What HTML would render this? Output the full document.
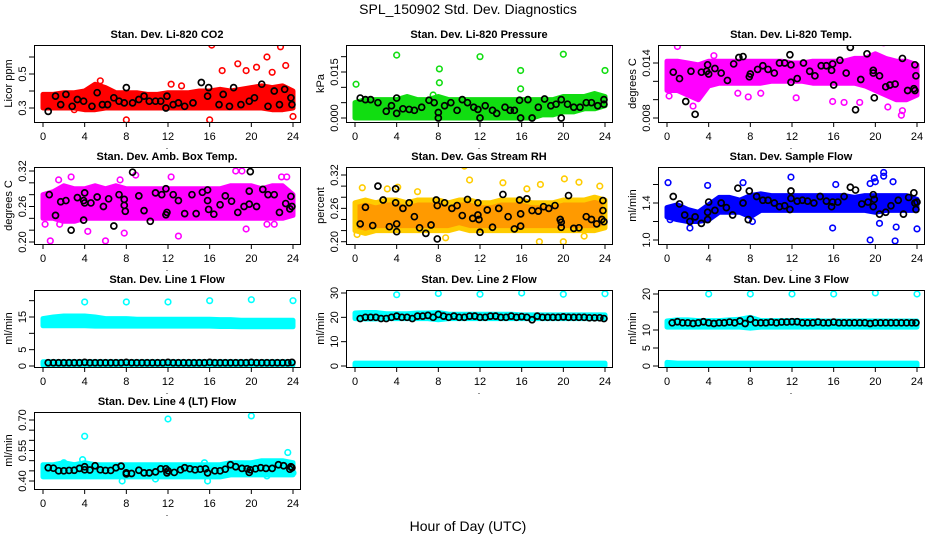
<!DOCTYPE html>
<html><head><meta charset="utf-8"><style>
html,body{margin:0;padding:0;background:#fff;}
svg{display:block;font-family:"Liberation Sans",sans-serif;}
</style></head><body>
<svg id="c" width="936" height="540" viewBox="0 0 936 540" xmlns="http://www.w3.org/2000/svg">
<text x="468" y="14" text-anchor="middle" font-size="14">SPL_150902  Std. Dev. Diagnostics</text>
<text x="468" y="531" text-anchor="middle" font-size="14">Hour of Day (UTC)</text>
</svg>
<script>
// ---- data ----
const bandHours=[0,1,2,3,4,5,6,7,8,9,10,11,12,13,14,15,16,17,18,19,20,21,22,23,24];
const blkHours=[0.5,1,1.5,2,2.5,3,3.5,4,4.5,5,5.5,6,6.5,7,7.5,8,8.5,9,9.5,10,10.5,11,11.5,12,12.5,13,13.5,14,14.5,15,15.5,16,16.5,17,17.5,18,18.5,19,19.5,20,20.5,21,21.5,22,22.5,23,23.5,23.9];

const co2Lo=[0.30,0.30,0.30,0.30,0.29,0.29,0.30,0.30,0.30,0.30,0.30,0.30,0.30,0.30,0.30,0.30,0.30,0.30,0.30,0.30,0.30,0.30,0.29,0.29,0.30];
const co2Hi=[0.38,0.38,0.39,0.39,0.40,0.44,0.42,0.39,0.39,0.39,0.38,0.38,0.39,0.39,0.39,0.40,0.40,0.41,0.40,0.41,0.42,0.43,0.42,0.43,0.40];
const co2Out=[[16.2,0.67],[22.8,0.66],[18.7,0.56],[21.5,0.6],[20.5,0.54],[22,0.51],[23.3,0.55],[19.5,0.52],[17.2,0.52],[8,0.23],[16,0.23],[24,0.25],[13.3,0.43],[12.3,0.44],[5.5,0.46],[0.5,0.31],[3,0.29]];
const co2Blk=[[0.5,0.28],[1.2,0.37],[1.7,0.32],[2.2,0.38],[2.8,0.31],[3.3,0.35],[3.9,0.34],[4.7,0.31],[5.2,0.39],[5.7,0.32],[6.2,0.32],[6.8,0.36],[7.3,0.34],[7.8,0.33],[8,0.42],[8.6,0.33],[9.2,0.35],[9.7,0.37],[10.2,0.34],[10.8,0.34],[11.3,0.34],[11.8,0.3],[11.9,0.37],[12.5,0.32],[13,0.33],[13.6,0.31],[14.4,0.33],[15.2,0.45],[15.8,0.37],[15.9,0.42],[16.9,0.32],[17.3,0.38],[17.9,0.31],[18.3,0.42],[19,0.32],[19.8,0.34],[20.3,0.36],[21,0.44],[21.6,0.31],[22.2,0.40],[22.7,0.32],[23.2,0.41],[23.8,0.36],[23.9,0.32]];

const presLo=[0,0,0,0,0,0,0,0,0,0,0,0,0,0,0,0,0,0,0.001,0.001,0.002,0.002,0.003,0.003,0.004];
const presHi=[0.005,0.006,0.006,0.006,0.006,0.007,0.006,0.006,0.007,0.006,0.006,0.006,0.006,0.006,0.006,0.006,0.006,0.006,0.006,0.006,0.007,0.007,0.007,0.008,0.007];
const presOut=[[0.1,0.011],[4,0.0205],[12,0.020],[20,0.0208],[8.1,0.016],[8.1,0.0115],[15.9,0.0155],[24,0.0155],[15.9,0.0095],[7.5,0.0075]];
const presBlk=[[0.5,0.0065],[1,0.006],[1.5,0.006],[2.2,0.005],[3,0.0022],[3.5,0.004],[4,0.0065],[4,0.0015],[4.6,0.003],[5.2,0.0028],[5.7,0.0025],[6.4,0.0035],[7.1,0.0058],[7.6,0.005],[8,0.0018],[8,0],[8.6,0.004],[9.2,0.005],[9.8,0.0025],[10.3,0.006],[10.8,0.005],[11.4,0.0035],[11.8,0.0028],[12,0],[12.5,0.004],[13.2,0.0025],[13.6,0.0015],[14.4,0.0035],[14.9,0.0025],[15.3,0.0025],[15.8,0.0058],[15.9,0],[16.6,0.006],[17,0],[17.6,0.0035],[18.2,0.0062],[18.8,0.004],[19.3,0.0045],[19.8,0.006],[19.8,0],[20.4,0.0045],[21,0.0035],[21.6,0.0035],[22.2,0.005],[22.7,0.005],[23.3,0.004],[23.9,0.006],[23.9,0.0045]];

const tempLo=[0.011,0.011,0.0105,0.010,0.0115,0.0118,0.0118,0.0118,0.0118,0.0118,0.012,0.012,0.012,0.012,0.0118,0.0118,0.0118,0.0118,0.0118,0.0115,0.011,0.0105,0.010,0.010,0.0105];
const tempHi=[0.0142,0.0142,0.014,0.0138,0.0142,0.0142,0.0142,0.0142,0.0142,0.0142,0.0142,0.0142,0.014,0.014,0.0142,0.0142,0.0142,0.0142,0.0145,0.0145,0.015,0.0145,0.0142,0.0142,0.0138];
const tempOut=[[1,0.0158],[4.5,0.0148],[20.5,0.0172],[20.8,0.0162],[22.5,0.0083],[22.6,0.0088],[2.5,0.0093],[12.4,0.0102],[17,0.0097],[18.5,0.0097],[15.9,0.0098],[7.8,0.0103],[6.8,0.0107],[9,0.0107],[21.2,0.0092],[0.2,0.0104]];
const tempBlk=[[0.6,0.013],[1.2,0.0123],[1.8,0.0098],[2.3,0.0131],[2.7,0.0084],[3.3,0.013],[3.8,0.0131],[3.9,0.0138],[4.0,0.0128],[4.6,0.0134],[5.2,0.0129],[5.8,0.0121],[6.4,0.0139],[6.9,0.0146],[7.3,0.0147],[7.9,0.0125],[8,0.0128],[8.7,0.0133],[9.2,0.0137],[9.7,0.0133],[10.3,0.0129],[10.8,0.014],[11.3,0.014],[11.8,0.0149],[11.9,0.0138],[11.9,0.0119],[12.5,0.0123],[13.1,0.014],[13.7,0.0131],[14.2,0.0126],[14.8,0.0137],[15.3,0.0137],[15.8,0.0132],[15.9,0.0139],[16,0.0116],[16.6,0.0143],[17.2,0.0129],[17.6,0.0157],[18.1,0.0089],[18.6,0.0122],[19.2,0.015],[19.8,0.0132],[19.8,0.0129],[19.9,0.0102],[20.4,0.0126],[21,0.0114],[21.4,0.0116],[21.9,0.0117],[22.6,0.0145],[23.1,0.011],[23.7,0.0112],[23.8,0.011],[23.8,0.0138],[23.9,0.0126]];

const ambLo=[0.24,0.24,0.235,0.235,0.24,0.24,0.24,0.24,0.24,0.24,0.24,0.24,0.24,0.24,0.24,0.24,0.24,0.24,0.24,0.24,0.24,0.24,0.24,0.24,0.245];
const ambHi=[0.28,0.285,0.295,0.29,0.29,0.295,0.29,0.295,0.29,0.29,0.29,0.29,0.29,0.29,0.29,0.29,0.29,0.29,0.295,0.295,0.295,0.29,0.295,0.295,0.28];
const ambOut=[[0.7,0.202],[6,0.202],[2.7,0.31],[12.3,0.31],[18.5,0.32],[19.1,0.32],[8.9,0.313],[13,0.21],[7.8,0.215],[4.3,0.218],[19.5,0.222],[22.9,0.31],[23.4,0.31],[0.2,0.23],[1.6,0.23],[21.5,0.23],[22.2,0.23],[1.5,0.305],[7.4,0.305]];
const ambBlk=[[0.6,0.28],[1.2,0.245],[1.7,0.268],[2.2,0.27],[2.7,0.22],[3.3,0.275],[3.9,0.27],[3.9,0.237],[4,0.283],[4,0.266],[4.6,0.266],[5.2,0.276],[5.8,0.26],[6.3,0.273],[6.8,0.227],[7.3,0.28],[7.8,0.272],[7.8,0.262],[7.9,0.252],[8.6,0.318],[9.2,0.278],[9.7,0.253],[10.3,0.235],[10.8,0.283],[11.4,0.28],[11.8,0.29],[11.8,0.246],[11.9,0.25],[12.5,0.28],[13,0.27],[13.6,0.248],[14.3,0.28],[14.7,0.248],[15.3,0.284],[15.8,0.288],[15.8,0.27],[15.9,0.255],[16.4,0.247],[17,0.263],[17.5,0.278],[18.1,0.269],[18.7,0.25],[19.3,0.26],[19.8,0.286],[19.8,0.264],[19.9,0.319],[20.5,0.26],[21.1,0.289],[21.6,0.28],[22.2,0.28],[22.7,0.25],[23.3,0.265],[23.7,0.256],[23.8,0.277],[23.9,0.26]];

const rhLo=[0.22,0.215,0.22,0.22,0.22,0.22,0.22,0.22,0.22,0.22,0.225,0.22,0.22,0.22,0.22,0.22,0.22,0.22,0.22,0.22,0.22,0.22,0.22,0.22,0.225];
const rhHi=[0.27,0.275,0.27,0.275,0.275,0.27,0.275,0.275,0.275,0.27,0.275,0.275,0.27,0.27,0.275,0.275,0.275,0.27,0.27,0.27,0.275,0.275,0.275,0.28,0.275];
const rhOut=[[10.5,0.336],[11,0.311],[17.8,0.303],[20.1,0.313],[21.5,0.307],[14.2,0.306],[0.7,0.297],[4.1,0.298],[17.7,0.2],[20,0.2],[8.7,0.207],[22,0.21],[0.2,0.213],[23.5,0.30],[3.1,0.295],[6,0.29],[16.5,0.295]];
const rhBlk=[[0.5,0.232],[1,0.262],[1.7,0.229],[2.2,0.3],[2.7,0.275],[3.3,0.227],[3.9,0.295],[3.9,0.27],[4,0.232],[4,0.218],[5.2,0.27],[4.6,0.26],[5.7,0.245],[6.2,0.225],[6.8,0.215],[7.3,0.23],[7.8,0.275],[7.9,0.265],[7.9,0.205],[8.6,0.27],[9.3,0.26],[9.8,0.265],[10.3,0.247],[10.8,0.276],[11.3,0.242],[11.8,0.27],[11.8,0.248],[11.9,0.24],[12,0.217],[12.7,0.257],[13.2,0.226],[13.8,0.26],[14.2,0.285],[14.7,0.245],[15.3,0.223],[15.8,0.275],[15.9,0.25],[15.9,0.228],[16.5,0.277],[17,0.256],[17.6,0.255],[18.1,0.263],[18.6,0.26],[19.2,0.265],[19.7,0.24],[19.8,0.235],[19.8,0.226],[20.5,0.283],[21,0.224],[21.5,0.225],[22.2,0.245],[22.7,0.24],[23.2,0.232],[23.7,0.24],[23.8,0.274],[23.8,0.256],[23.9,0.236]];

const flowLo=[1.25,1.22,1.2,1.2,1.22,1.3,1.3,1.3,1.25,1.32,1.32,1.32,1.32,1.32,1.32,1.32,1.32,1.32,1.32,1.32,1.3,1.32,1.32,1.32,1.32];
const flowHi=[1.35,1.38,1.33,1.3,1.38,1.46,1.46,1.43,1.48,1.5,1.48,1.48,1.48,1.48,1.48,1.48,1.48,1.48,1.46,1.48,1.48,1.48,1.48,1.48,1.44];
const flowOut=[[0.1,1.62],[3.9,1.59],[7.3,1.62],[11.9,1.68],[16.2,1.6],[19.5,1.61],[19.9,1.67],[20,1.63],[20.8,1.73],[20.8,1.69],[21.7,1.63],[19.5,1.0],[21.9,0.99],[15.9,1.13],[24,1.12],[22,1.14],[20.4,1.18],[2.2,1.13],[0.3,1.22],[8.2,1.2]];
const flowBlk=[[0.6,1.47],[1.2,1.39],[1.7,1.27],[2.2,1.2],[2.7,1.25],[3.3,1.18],[3.9,1.22],[3.9,1.3],[4,1.41],[4.6,1.32],[5.2,1.4],[5.7,1.35],[6.3,1.27],[6.8,1.56],[7.3,1.4],[7.8,1.22],[7.9,1.53],[8.6,1.47],[9.2,1.43],[9.7,1.43],[10.3,1.4],[10.8,1.36],[11.3,1.37],[11.8,1.33],[11.9,1.53],[11.9,1.45],[12.5,1.42],[13,1.43],[13.5,1.42],[14.1,1.4],[14.7,1.47],[15.3,1.42],[15.8,1.36],[15.9,1.41],[16.4,1.41],[17,1.47],[17.6,1.57],[18.1,1.54],[18.7,1.39],[19.3,1.41],[19.8,1.49],[19.8,1.36],[19.9,1.44],[20.4,1.28],[21,1.3],[21.5,1.37],[22.2,1.43],[22.7,1.28],[23.2,1.46],[23.7,1.51],[23.8,1.4],[23.9,1.33],[24,1.41]];

const line1Lo=[12.3,12.3,12.3,12.3,12.3,12.2,12.2,12.2,12.2,12.2,12.2,12.2,12.2,12.2,12.2,12.2,12.2,12.1,12.1,12.0,12.0,12.0,12.0,12.0,12.0];
const line1Hi=[14.5,15.0,15.3,15.3,15.3,15.0,14.5,14.5,14.5,14.3,14.3,14.3,14.3,14.3,14.3,14.3,14.3,14.2,14.2,14.0,14.0,14.0,14.0,14.0,14.0];
const line1BotLo=[0.3,0.3,0.3,0.3,0.3,0.3,0.3,0.3,0.3,0.3,0.3,0.3,0.3,0.3,0.3,0.3,0.3,0.3,0.3,0.3,0.3,0.3,0.3,0.3,0.3];
const line1BotHi=[1.3,1.3,1.3,1.3,1.3,1.3,1.3,1.3,1.3,1.3,1.3,1.3,1.3,1.3,1.3,1.3,1.3,1.3,1.3,1.3,1.3,1.3,1.3,1.3,1.3];
const line1Out=[[4,19.6],[8,19.6],[12,19.6],[16,20],[20,20.3],[24,20]];
const line1Blk=[1,1,1,1,1,1,1,1.1,1,1,1,1,1,1,1,1.1,1,1,1,1,1,1,1,1.1,1,1,1,1,1,1,1,1.1,1,1,1,1,1,1,1,1.1,1,1,1,1,1,1,1,1.1];

const line2Lo=[19.5,19.3,19.3,19.5,19.5,19.5,19.5,19.5,19.0,19.5,19.5,19.5,19.5,19.5,19.5,19.5,19.5,19.5,19.5,19.5,19.5,19.5,19.5,19.5,19.5];
const line2Hi=[21.8,22.0,22.0,21.5,21.5,21.5,21.8,21.8,22.0,21.3,21.3,21.3,21.3,21.3,21.3,21.3,21.0,21.0,21.0,21.0,21.0,21.0,21.0,21.0,21.0];
const line2BotLo=[0,0,0,0,0,0,0,0,0,0,0,0,0,0,0,0,0,0,0,0,0,0,0,0,0];
const line2BotHi=[1.2,1.2,1.2,1.2,1.2,1.2,1.2,1.2,1.2,1.2,1.2,1.2,1.2,1.2,1.2,1.2,1.2,1.2,1.2,1.2,1.2,1.2,1.2,1.2,1.2];
const line2Out=[[4,29.3],[8,29.8],[12,29.5],[16,30],[20,29.5],[24,29.7]];
const line2Blk=[19.5,20,20,20,19.5,19.5,20,20.5,20,20,19.5,20.5,20.5,20.8,20,21.2,20.5,20,20.5,20,20,20.5,20.5,20,20,20.5,20.5,20,20,20.5,20,20.3,20,19,20.5,20,20,20,20,20.2,20,20,20,20,19.8,19.8,19.8,19.5];

const line3Lo=[10.8,10.8,10.8,10.8,10.8,10.8,10.8,10.8,10.5,10.8,10.8,10.8,10.8,10.8,10.8,10.8,10.8,10.8,10.8,10.8,10.8,10.8,10.8,10.8,10.8];
const line3Hi=[12.5,12.8,12.8,12.6,12.6,12.6,12.8,13.0,13.5,12.6,12.6,12.6,12.6,12.6,12.6,12.5,12.5,12.5,12.5,12.5,12.5,12.5,12.5,12.5,12.5];
const line3BotLo=[0,0,0,0,0,0,0,0,0,0,0,0,0,0,0,0,0,0,0,0,0,0,0,0,0];
const line3BotHi=[1.0,0.8,0.8,0.8,0.8,0.8,0.8,0.8,0.8,0.8,0.8,0.8,0.8,0.8,0.8,0.8,0.8,0.8,0.8,0.8,0.8,0.8,0.8,0.8,0.8];
const line3Out=[[4,20],[8,20],[12,20],[16,20],[20,20.3],[24,20]];
const line3Blk=[12,12.3,12,12,11.8,12,12.3,12,11.8,12,12,12.2,12,12.5,11.8,13,12,12,12,12.2,12,12.2,12.2,12.3,12.3,12,12,12,12.2,12,12,12.2,12,12,12,12,12,12,11.8,12,12,12,12,12,12,12,12,12];

const line4Lo=[0.42,0.42,0.42,0.42,0.42,0.42,0.42,0.42,0.42,0.42,0.42,0.42,0.42,0.42,0.42,0.42,0.42,0.42,0.43,0.43,0.43,0.43,0.43,0.43,0.43];
const line4Hi=[0.48,0.48,0.49,0.48,0.49,0.48,0.48,0.48,0.48,0.48,0.48,0.48,0.48,0.48,0.48,0.48,0.48,0.48,0.49,0.49,0.49,0.50,0.50,0.50,0.49];
const line4Out=[[4,0.62],[12,0.705],[20,0.72],[23.5,0.54],[3.8,0.505],[2,0.49],[15.5,0.49],[7.6,0.40],[15.8,0.40],[10.8,0.41],[0.1,0.44],[24,0.44],[21.5,0.425]];
const line4Blk=[[0.5,0.465],[1,0.463],[1.5,0.45],[2,0.45],[2.5,0.452],[3,0.453],[3.5,0.462],[4,0.47],[4,0.455],[4.5,0.454],[5,0.475],[5.5,0.455],[6,0.452],[6.5,0.452],[7,0.465],[7.5,0.473],[8,0.44],[8,0.435],[8.5,0.437],[9.2,0.453],[9.7,0.44],[10.2,0.44],[10.8,0.445],[11.3,0.46],[11.8,0.46],[11.9,0.44],[12,0.45],[12.6,0.442],[13.2,0.455],[13.6,0.465],[14.1,0.46],[14.6,0.455],[15.1,0.458],[15.6,0.46],[15.8,0.44],[16.5,0.45],[17,0.45],[17.5,0.458],[18,0.48],[18.5,0.47],[19.1,0.462],[19.6,0.46],[19.8,0.442],[19.9,0.455],[20.4,0.46],[20.9,0.465],[21.4,0.462],[22,0.462],[22.6,0.48],[23.1,0.475],[23.7,0.458],[23.8,0.47],[23.9,0.465]];

const xTicks=[0,4,8,12,16,20,24];

// ---- rendering ----
const NS="http://www.w3.org/2000/svg";
const svg=document.getElementById('c');
function mk(tag,attrs,parent){const e=document.createElementNS(NS,tag);for(const k in attrs)e.setAttribute(k,attrs[k]);(parent||svg).appendChild(e);return e;}
const colLeft=[34,346,658], rowTop=[45,167,290,412], W=266, H=77;
function pairs(hours,vals){return hours.map((h,i)=>[h,vals[i]]);}

const panels=[
 {id:'co2',c:0,r:0,title:'Stan. Dev. Li-820 CO2',ylab:'Licor ppm',ref:[0.3,63,0.5,29],ticks:[0.3,0.4,0.5,0.6],labels:['0.3','','0.5',''],col:'#ff0000',bands:[[co2Lo,co2Hi]],out:co2Out,blk:co2Blk},
 {id:'pressure',c:1,r:0,title:'Stan. Dev. Li-820 Pressure',ylab:'kPa',ref:[0,73,0.015,27],ticks:[0,0.005,0.01,0.015,0.02],labels:['0.000','','','0.015',''],col:'#11dd11',bands:[[presLo,presHi]],out:presOut,blk:presBlk},
 {id:'li820-temp',c:2,r:0,title:'Stan. Dev. Li-820 Temp.',ylab:'degrees C',ref:[0.008,73,0.014,18],ticks:[0.008,0.010,0.012,0.014],labels:['0.008','','','0.014'],col:'#ff00ff',bands:[[tempLo,tempHi]],out:tempOut,blk:tempBlk},
 {id:'amb-box-temp',c:0,r:1,title:'Stan. Dev. Amb. Box Temp.',ylab:'degrees C',ref:[0.2,75,0.32,4],ticks:[0.2,0.22,0.24,0.26,0.28,0.3,0.32],labels:['0.20','','','0.26','','','0.32'],col:'#ff00ff',bands:[[ambLo,ambHi]],out:ambOut,blk:ambBlk},
 {id:'gas-stream-rh',c:1,r:1,title:'Stan. Dev. Gas Stream RH',ylab:'percent',ref:[0.2,74.7,0.32,8],ticks:[0.2,0.22,0.24,0.26,0.28,0.3,0.32],labels:['0.20','','','0.26','','','0.32'],col:'#ff9a00',ring:'#ffcc00',bands:[[rhLo,rhHi]],out:rhOut,blk:rhBlk},
 {id:'sample-flow',c:2,r:1,title:'Stan. Dev. Sample Flow',ylab:'ml/min',ref:[1.0,73,1.4,36],ticks:[1.0,1.2,1.4,1.6],labels:['1.0','','1.4',''],col:'#0000ff',bands:[[flowLo,flowHi]],out:flowOut,blk:flowBlk},
 {id:'line1-flow',c:0,r:2,title:'Stan. Dev. Line 1 Flow',ylab:'ml/min',ref:[0,76,15,27],ticks:[0,5,10,15,20],labels:['0','5','','15',''],col:'#00ffff',bands:[[line1Lo,line1Hi],[line1BotLo,line1BotHi]],out:line1Out,blk:pairs(blkHours,line1Blk)},
 {id:'line2-flow',c:1,r:2,title:'Stan. Dev. Line 2 Flow',ylab:'ml/min',ref:[0,76,30,3],ticks:[0,10,20,30],labels:['0','10','20','30'],col:'#00ffff',bands:[[line2Lo,line2Hi],[line2BotLo,line2BotHi]],out:line2Out,blk:pairs(blkHours,line2Blk)},
 {id:'line3-flow',c:2,r:2,title:'Stan. Dev. Line 3 Flow',ylab:'ml/min',ref:[0,76,20,4],ticks:[0,5,10,15,20],labels:['0','5','10','','20'],col:'#00ffff',bands:[[line3Lo,line3Hi],[line3BotLo,line3BotHi]],out:line3Out,blk:pairs(blkHours,line3Blk)},
 {id:'line4-flow',c:0,r:3,title:'Stan. Dev. Line 4 (LT) Flow',ylab:'ml/min',ref:[0.4,69,0.7,8],ticks:[0.4,0.45,0.5,0.55,0.6,0.65,0.7],labels:['0.40','','','0.55','','','0.70'],col:'#00ffff',bands:[[line4Lo,line4Hi]],out:line4Out,blk:line4Blk}
];

panels.forEach(p=>{
 const L=colLeft[p.c], T=rowTop[p.r];
 const g=mk('g',{});
 
 
 const X=h=>L+9+h*(250/24);
 const Y=v=>T+p.ref[1]+(v-p.ref[0])*(p.ref[3]-p.ref[1])/(p.ref[2]-p.ref[0]);
 const clip='clip-'+p.id;
 const cp=mk('clipPath',{id:clip},g); mk('rect',{x:L,y:T,width:W,height:H},cp);
 const data=mk('g',{'clip-path':'url(#'+clip+')'},g);
 p.bands.forEach((b,bi)=>{
  const lo=b[0],hi=b[1];
  let d='M'+bandHours.map((h,i)=>X(h).toFixed(1)+','+Y(hi[i]).toFixed(1)).join(' L');
  for(let i=bandHours.length-1;i>=0;i--) d+=' L'+X(bandHours[i]).toFixed(1)+','+Y(lo[i]).toFixed(1);
  d+='Z';
  const band=mk('path',{d:d,fill:p.col,stroke:p.ring||p.col,'stroke-width':5,'stroke-linejoin':'round'},data);
  
  
 });
 p.out.forEach(o=>{
  const c=mk('circle',{cx:X(o[0]),cy:Y(o[1]),r:2.8,fill:'none',stroke:p.ring||p.col,'stroke-width':1.6},data);
  
  
 });
 p.blk.forEach(o=>{
  const c=mk('circle',{cx:X(o[0]),cy:Y(o[1]),r:3,fill:'none',stroke:'#000','stroke-width':1.7},data);
  
  
 });
 const box=mk('rect',{x:L+0.5,y:T+0.5,width:W,height:H,fill:'none',stroke:'#000','stroke-width':1},g);
 
 
 const xa=mk('g',{},g);
 
 
 mk('line',{x1:X(0),x2:X(24),y1:T+H+0.5,y2:T+H+0.5,stroke:'#000'},xa);
 xTicks.forEach(t=>{
  mk('line',{x1:X(t),x2:X(t),y1:T+H,y2:T+H+5,stroke:'#000'},xa);
  const tx=mk('text',{x:X(t),y:T+H+18,'text-anchor':'middle','font-size':11},xa);
  tx.textContent=t;
 });
 const dot=mk('text',{x:L+W/2,y:T+H+27,'text-anchor':'middle','font-size':9},xa);
 dot.textContent='.';
 const ya=mk('g',{},g);
 
 
 const yt=p.ticks.map(Y);
 mk('line',{x1:L+0.5,x2:L+0.5,y1:Math.min(...yt),y2:Math.max(...yt),stroke:'#000'},ya);
 p.ticks.forEach((t,i)=>{
  const yy=Y(t);
  mk('line',{x1:L-5,x2:L,y1:yy,y2:yy,stroke:'#000'},ya);
  if(p.labels[i]){
   const tx=mk('text',{x:L-8,y:yy,'text-anchor':'middle','font-size':11,transform:'rotate(-90 '+(L-8)+' '+yy+')'},ya);
   tx.textContent=p.labels[i];
  }
 });
 const yl=mk('text',{x:L-22,y:T+H/2,'text-anchor':'middle','font-size':11,transform:'rotate(-90 '+(L-22)+' '+(T+H/2)+')'},g);
 yl.textContent=p.ylab;
 
 
 const ti=mk('text',{x:L+W/2,y:T-7,'text-anchor':'middle','font-size':11,'font-weight':'bold'},g);
 ti.textContent=p.title;
 
 
});
</script>
</body></html>
